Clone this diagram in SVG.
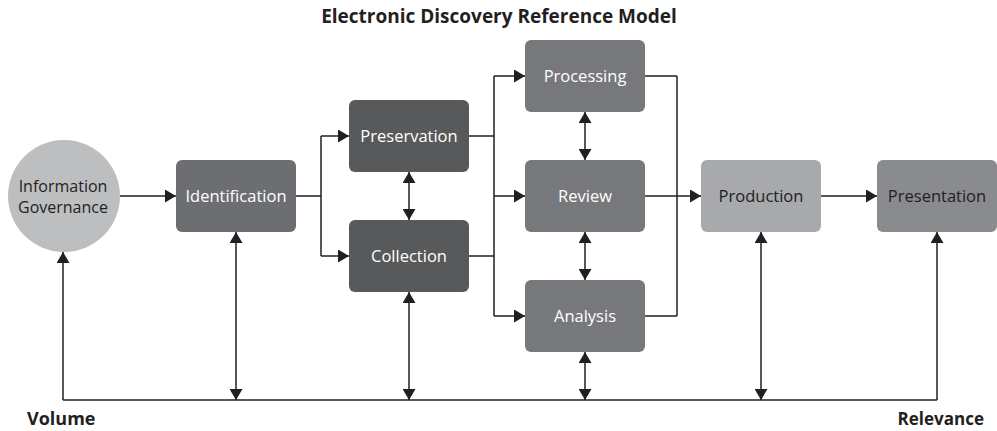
<svg xmlns="http://www.w3.org/2000/svg" width="997" height="431" viewBox="0 0 997 431">
<style>
.lbl{font-family:"Open Sans","Liberation Sans",sans-serif;font-size:16.5px;text-anchor:middle}
.w{fill:#ffffff}
.d{fill:#231f20}
.ttl{font-family:"Open Sans","Liberation Sans",sans-serif;font-size:19px;font-weight:bold;fill:#231f20}
.c{fill:none;stroke:#231f20;stroke-width:1.5}
.a{marker-end:url(#ah)}
.aa{marker-start:url(#ah);marker-end:url(#ah)}
</style>
<defs>
<marker id="ah" markerUnits="userSpaceOnUse" markerWidth="12" markerHeight="13" refX="11" refY="6.5" orient="auto-start-reverse" viewBox="0 0 12 13">
<path d="M0,0 L11,6.5 L0,13 z" fill="#231f20"/>
</marker>
</defs>
<rect width="997" height="431" fill="#ffffff"/>
<text class="ttl" x="499" y="23" text-anchor="middle">Electronic Discovery Reference Model</text>

<g id="connectors">
<path class="c a" d="M120,196 H176"/>
<path class="c" d="M296,196 H321 M321,136 V256"/>
<path class="c a" d="M321,136 H349"/>
<path class="c a" d="M321,256 H349"/>
<path class="c aa" d="M409,172 V220"/>
<path class="c" d="M469,136 H494 M469,256 H494 M494,76 V316"/>
<path class="c a" d="M494,76 H525"/>
<path class="c a" d="M494,196 H525"/>
<path class="c a" d="M494,316 H525"/>
<path class="c aa" d="M585,112 V160"/>
<path class="c aa" d="M585,232 V280"/>
<path class="c" d="M645,76 H677 M645,316 H677 M677,76 V316"/>
<path class="c a" d="M645,196 H701"/>
<path class="c a" d="M821,196 H877"/>
<path class="c" d="M63,400 H937"/>
<path class="c a" d="M63,400 V252"/>
<path class="c aa" d="M236,232 V400"/>
<path class="c aa" d="M409,292 V400"/>
<path class="c aa" d="M585,352 V400"/>
<path class="c aa" d="M761,232 V400"/>
<path class="c a" d="M937,400 V232"/>
</g>

<g id="information-governance">
<circle cx="64" cy="196" r="56" fill="#bcbec0"/>
<text class="lbl d" x="63" y="192" style="font-size:16px">Information</text>
<text class="lbl d" x="63" y="213" style="font-size:16px">Governance</text>
</g>
<g id="identification">
<rect x="176" y="160" width="120" height="72" rx="6" fill="#6d6e71"/>
<text class="lbl w" x="236" y="202">Identification</text>
</g>
<g id="preservation">
<rect x="349" y="100" width="120" height="72" rx="6" fill="#58595b"/>
<text class="lbl w" x="409" y="142">Preservation</text>
</g>
<g id="collection">
<rect x="349" y="220" width="120" height="72" rx="6" fill="#58595b"/>
<text class="lbl w" x="409" y="262">Collection</text>
</g>
<g id="processing">
<rect x="525" y="40" width="120" height="72" rx="6" fill="#77787b"/>
<text class="lbl w" x="585" y="82">Processing</text>
</g>
<g id="review">
<rect x="525" y="160" width="120" height="72" rx="6" fill="#77787b"/>
<text class="lbl w" x="585" y="202">Review</text>
</g>
<g id="analysis">
<rect x="525" y="280" width="120" height="72" rx="6" fill="#77787b"/>
<text class="lbl w" x="585" y="322">Analysis</text>
</g>
<g id="production">
<rect x="701" y="160" width="120" height="72" rx="6" fill="#a7a9ac"/>
<text class="lbl d" x="761" y="202">Production</text>
</g>
<g id="presentation">
<rect x="877" y="160" width="120" height="72" rx="6" fill="#8a8b8e"/>
<text class="lbl d" x="937" y="202">Presentation</text>
</g>

<text class="ttl" x="27" y="425" style="font-size:18px">Volume</text>
<text class="ttl" x="984" y="425" text-anchor="end" style="font-size:17px">Relevance</text>
</svg>
